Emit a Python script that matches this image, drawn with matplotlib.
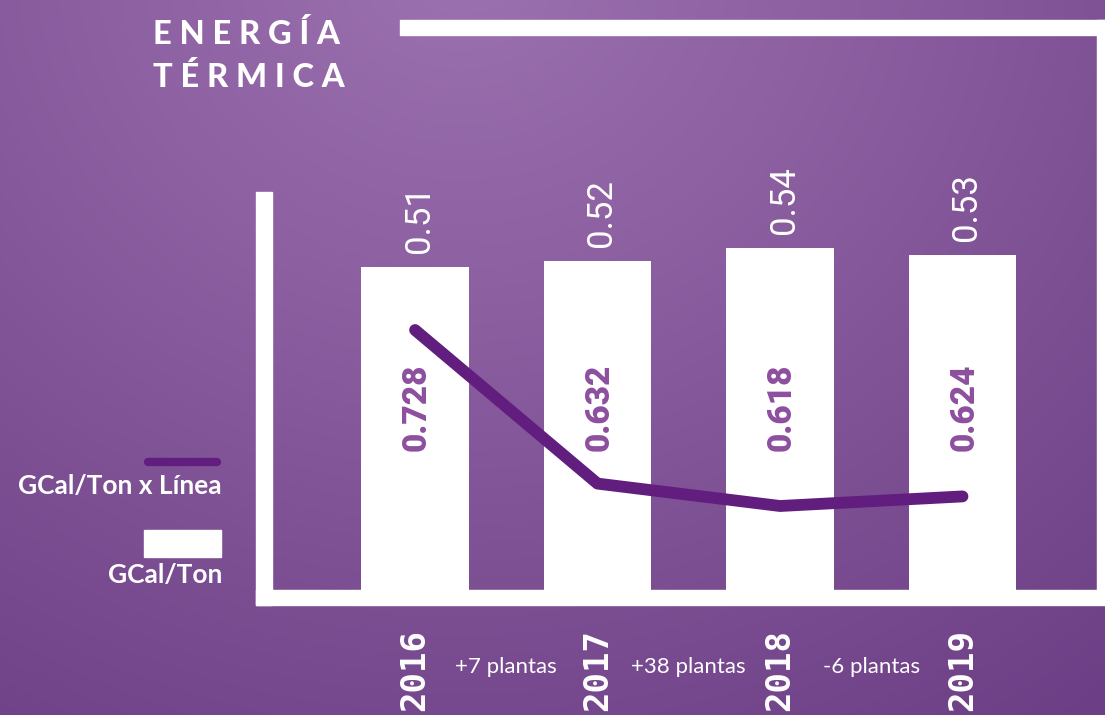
import numpy as np
import matplotlib
matplotlib.use("Agg")
import matplotlib.pyplot as plt
from matplotlib.patches import Rectangle
from matplotlib.lines import Line2D
from matplotlib.colors import to_rgb
import matplotlib.transforms as mtransforms

# data
years = ["2016", "2017", "2018", "2019"]
gcal_ton = [0.51, 0.52, 0.54, 0.53]
gcal_ton_linea = [0.728, 0.632, 0.618, 0.624]
plantas = ["+7 plantas", "+38 plantas", "-6 plantas"]

W, H = 1105, 715
line_col = "#611e7e"
inner_col = "#8d4f9f"

fig = plt.figure(figsize=(W / 100, H / 100), dpi=100)


def fx(x):
    return x / W


def fy(y):
    return 1 - y / H


# background gradient
bg = fig.add_axes([0, 0, 1, 1])
yy, xx = np.mgrid[0:H, 0:W]
d = np.sqrt(((xx - 460) / 1.0) ** 2 + ((yy + 40) / 0.9) ** 2)
t = np.clip(d / 1050, 0, 1)[..., None]
c0 = np.array(to_rgb("#9d72b0"))
c1 = np.array(to_rgb("#6c3e85"))
img = c0 * (1 - t) + c1 * t
bg.imshow(img, extent=[0, W, H, 0], aspect="auto")
bg.axis("off")

# white frame
frame = [(256, 192, 16, 413), (256, 590, 849, 15), (1097, 20, 8, 570), (400, 20, 705, 15)]
for x, y, w, h in frame:
    fig.patches.append(Rectangle((fx(x), fy(y + h)), w / W, h / H,
                                 transform=fig.transFigure, color="white", zorder=1))

# main axes: x 272..1097, y 35..590
ax = fig.add_axes([fx(272), fy(590), (1097 - 272) / W, (590 - 35) / H])
ax.patch.set_alpha(0)
xs = np.arange(len(years))
ax.bar(xs, gcal_ton, width=0.59, color="white", zorder=2)
ax.set_xlim(-0.784, 3.737)
ax.set_ylim(0, 0.877)
ax.axis("off")

for xi, v in zip(xs, gcal_ton):
    ax.annotate(f"{v:.2f}", (xi, v), xytext=(3, 10), textcoords="offset points",
                rotation=90, ha="center", va="bottom", color="white",
                fontsize=25, family="Roboto", fontweight="normal")

blend = mtransforms.blended_transform_factory(ax.transData, ax.transAxes)
for xi, v in zip(xs, gcal_ton_linea):
    ax.text(xi + 0.01, 0.33, f"{v:.3f}", rotation=90, ha="center", va="center",
            color=inner_col, fontsize=24, family="Roboto", fontweight="heavy",
            transform=blend, zorder=4)

for xi, y in zip(xs, years):
    ax.text(xi, -0.07, y, rotation=90, ha="center", va="top", color="white",
            fontsize=24.5, family="DejaVu Sans Mono", fontweight="bold",
            transform=blend, clip_on=False)

for i, p in enumerate(plantas):
    ax.text(xs[i] + 0.5, -0.139, p, ha="center", va="center", color="white",
            fontsize=16, family="Lato", transform=blend, clip_on=False)

ax2 = ax.twinx()
ax2.set_ylim(0.5655, 0.9124)
ax2.plot(xs, gcal_ton_linea, color=line_col, lw=8.5, solid_capstyle="round",
         solid_joinstyle="round", zorder=3)
ax2.axis("off")

# legend
fig.lines.append(Line2D([fx(148), fx(217)], [fy(462), fy(462)], transform=fig.transFigure,
                        color=line_col, lw=6, solid_capstyle="round"))
fig.text(fx(222), fy(486), "GCal/Ton x Línea", ha="right", va="center", color="white",
         fontsize=19, family="Lato", fontweight="bold")
fig.patches.append(Rectangle((fx(144), fy(557)), 77 / W, 27 / H, transform=fig.transFigure,
                             color="white"))
fig.text(fx(222), fy(575), "GCal/Ton", ha="right", va="center", color="white",
         fontsize=19, family="Lato", fontweight="bold")

# title
fig.text(fx(153), fy(34), "E N E R G Í A", ha="left", va="center", color="white",
         fontsize=23.5, family="Lato", fontweight="black")
fig.text(fx(153), fy(77), "T É R M I C A", ha="left", va="center", color="white",
         fontsize=23.5, family="Lato", fontweight="black")

fig.savefig("out.png", dpi=100)
